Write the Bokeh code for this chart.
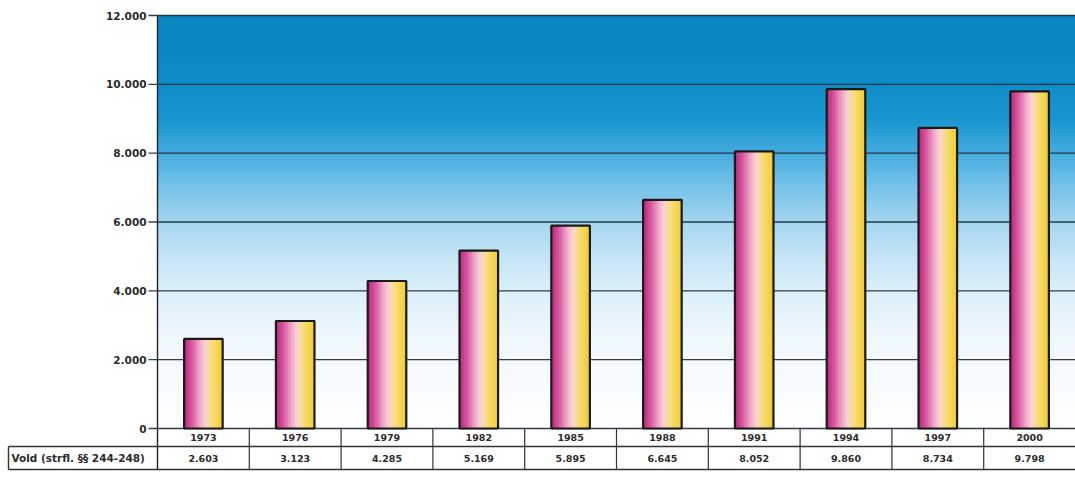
import numpy as np
from bokeh.plotting import figure
from bokeh.models import Range1d, ColumnDataSource
from bokeh.core.properties import value
from bokeh.embed import file_html
from bokeh.resources import INLINE

# ---- data ----
years = ["1973", "1976", "1979", "1982", "1985", "1988", "1991", "1994", "1997", "2000"]
counts = [2603, 3123, 4285, 5169, 5895, 6645, 8052, 9860, 8734, 9798]
count_labels = ["2.603", "3.123", "4.285", "5.169", "5.895", "6.645", "8.052", "9.860", "8.734", "9.798"]
row_label = "Vold (strfl. §§ 244-248)"
y_ticks = [0, 2000, 4000, 6000, 8000, 10000, 12000]
y_tick_labels = ["0", "2.000", "4.000", "6.000", "8.000", "10.000", "12.000"]

FONT = "DejaVu Sans"
TXT = "#2b2b2b"
n = len(years)
xs = np.arange(n)

# pixel <-> data helpers (layout only)
W, H = 1075, 477
left_px, top_px, zero_px = 157, 15, 428
ppx = (W - left_px) / n                 # px per category
ppy = (zero_px - top_px) / 12000.0      # px per count
def dx(px):
    return px / ppx
def dy(px):
    return px / ppy

x0 = -0.5
xr = Range1d(x0 - dx(left_px), n - 0.5)
yr = Range1d(-dy(H - zero_px), 12000 + dy(top_px))

p = figure(width=W, height=H, output_backend="svg", toolbar_location=None,
           x_range=xr, y_range=yr, x_axis_type=None, y_axis_type=None, min_border=0)
p.outline_line_color = None
p.xgrid.visible = False
p.ygrid.visible = False
p.background_fill_color = "white"
p.border_fill_color = "white"

def hex2rgb(h):
    return np.array([int(h[i:i + 2], 16) for i in (1, 3, 5)], dtype=float)

# background gradient (blue at top -> white at bottom)
stops_y = [0, 2500, 4000, 5000, 6000, 7000, 8000, 9000, 10500, 12000]
stops_c = ["#ffffff", "#f1f8fc", "#dcf0fa", "#c4e5f6", "#a3d6f0", "#78c3ea",
           "#45acdf", "#1896d0", "#0b8bc6", "#0887c1"]
rgbs = np.array([hex2rgb(c) for c in stops_c])
edges = np.linspace(0, 12000, 121)
mids = (edges[:-1] + edges[1:]) / 2
cols = []
for m in mids:
    rgb = [np.interp(m, stops_y, rgbs[:, j]) for j in range(3)]
    cols.append("#%02x%02x%02x" % tuple(int(v) for v in rgb))
tops = np.minimum(edges[1:] + dy(2), 12000)
p.quad(left=x0, right=n - 0.5, bottom=edges[:-1], top=tops, fill_color=cols, line_color=None)

# gridlines, ticks, tick labels
grid_right = [n - 0.5] * len(y_ticks)
p.segment(x0=x0 - dx(9), x1=grid_right, y0=y_ticks, y1=y_ticks,
          line_color="#1c2a33", line_width=1.3, line_alpha=0.9)
p.text(x=x0 - dx(11), y=y_ticks, text=y_tick_labels, text_align="right", text_baseline="middle",
       text_font=value(FONT), text_font_style="bold", text_font_size="10.5px", text_color=TXT)

# bars with horizontal gradient
bw = 0.42
nstrip = 16
g_pos = [0.0, 0.2, 0.4, 0.55, 0.7, 1.0]
g_col = ["#b8287a", "#d858a0", "#f0a8c8", "#f8d4d8", "#f8df7c", "#f2cb2c"]
g_rgb = np.array([hex2rgb(c) for c in g_col])
L, R, T, C = [], [], [], []
for i in range(n):
    for k in range(nstrip):
        f = (k + 0.5) / nstrip
        rgb = [np.interp(f, g_pos, g_rgb[:, j]) for j in range(3)]
        L.append(xs[i] - bw / 2 + k * bw / nstrip)
        R.append(min(xs[i] - bw / 2 + (k + 1) * bw / nstrip + dx(1.5), xs[i] + bw / 2))
        T.append(counts[i])
        C.append("#%02x%02x%02x" % tuple(int(v) for v in rgb))
p.quad(left=L, right=R, bottom=0, top=T, fill_color=C, line_color=None)
p.vbar(x=xs, width=bw, top=counts, bottom=0, fill_alpha=0,
       line_color="#1a1a1a", line_width=2.2)

# ---- data table below ----
row1_b = -dy(18)
row2_b = -dy(41)
lab_left = x0 - dx(149)
line_c = "#333333"
p.segment(x0=[lab_left, lab_left], x1=[n - 0.5] * 2, y0=[row1_b, row2_b], y1=[row1_b, row2_b],
          line_color=line_c, line_width=1.4)
sep = list(xs[1:] - 0.5)
p.segment(x0=sep, x1=sep, y0=0, y1=row2_b, line_color=line_c, line_width=1.2)
# axis line through the table
p.segment(x0=[x0], x1=[x0], y0=[12000], y1=[row2_b], line_color="#222222", line_width=1.4)
p.segment(x0=[lab_left], x1=[lab_left], y0=[row1_b], y1=[row2_b], line_color=line_c, line_width=1.4)

src = ColumnDataSource(dict(x=xs, yr=years, val=count_labels))
p.text(x="x", y=row1_b / 2, text="yr", source=src, text_align="center", text_baseline="middle",
       text_font=value(FONT), text_font_style="bold", text_font_size="9.5px", text_color=TXT)
p.text(x="x", y=(row1_b + row2_b) / 2, text="val", source=src, text_align="center",
       text_baseline="middle", text_font=value(FONT), text_font_style="bold",
       text_font_size="9.5px", text_color=TXT)
p.text(x=[lab_left + dx(3)], y=[(row1_b + row2_b) / 2], text=[row_label], text_align="left",
       text_baseline="middle", text_font=value(FONT), text_font_style="bold",
       text_font_size="10.5px", text_color=TXT)

open("out.html", "w").write(file_html(p, INLINE))
